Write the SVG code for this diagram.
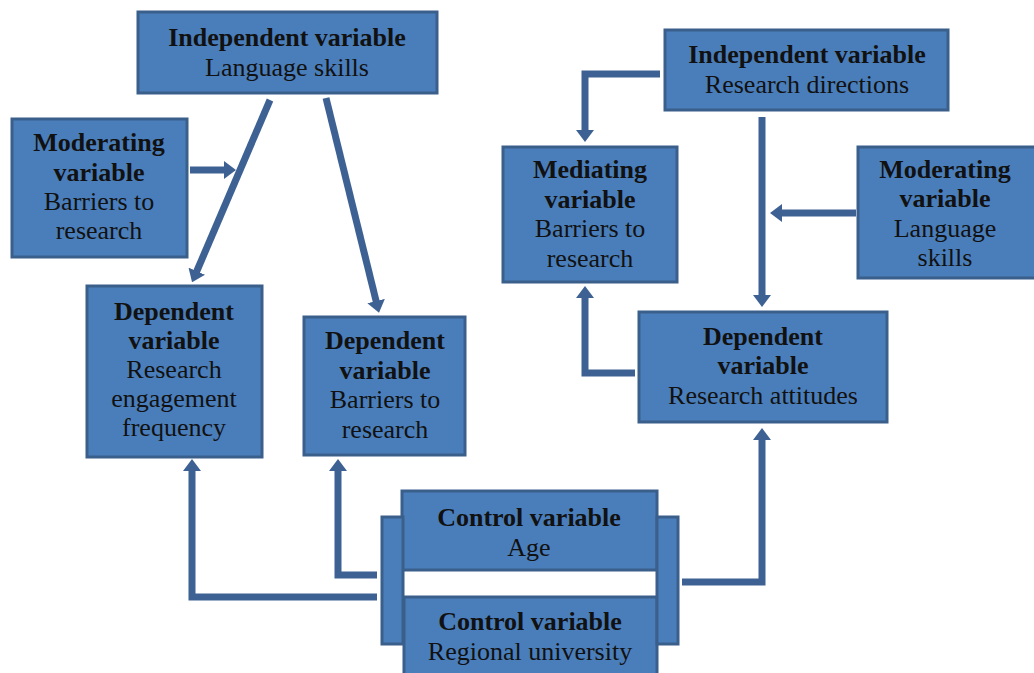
<svg xmlns="http://www.w3.org/2000/svg" width="1034" height="673" viewBox="0 0 1034 673">
<style>
.box{fill:#4A7EBB;stroke:#3A5F8B;stroke-width:3}
.t{font-family:"Liberation Serif","Times New Roman",serif;font-size:26px;fill:#111;text-anchor:middle}
.b{font-weight:bold}
.c{fill:none;stroke:#3D6193;stroke-width:7;stroke-linejoin:miter}
</style>
<defs>
<marker id="ah" markerUnits="userSpaceOnUse" markerWidth="12" markerHeight="18" viewBox="0 0 12 18" refX="2" refY="9" orient="auto">
<path d="M0,0 L12,9 L0,18 z" fill="#3D6193"/>
</marker>
</defs>
<rect width="1034" height="673" fill="#fff"/>
<g id="connectors">
<path class="c" d="M270,100 L196,273" marker-end="url(#ah)"/>
<path class="c" d="M326,98 L376.6,303" marker-end="url(#ah)"/>
<path class="c" d="M190,170 H226" marker-end="url(#ah)"/>
<path class="c" d="M377,597 H192 V469" marker-end="url(#ah)"/>
<path class="c" d="M377,575 H338 V469" marker-end="url(#ah)"/>
<path class="c" d="M682,582 H762 V438" marker-end="url(#ah)"/>
<path class="c" d="M635,373 H585 V296" marker-end="url(#ah)"/>
<path class="c" d="M660,74 H585 V132" marker-end="url(#ah)"/>
<path class="c" d="M762,117 V297" marker-end="url(#ah)"/>
<path class="c" d="M856,213 H780" marker-end="url(#ah)"/>
</g>
<g id="indep-language">
<rect class="box" x="138" y="12" width="299" height="81"/>
<text class="t b" x="287" y="46">Independent variable</text>
<text class="t" x="287" y="76">Language skills</text>
</g>
<g id="moderating-barriers">
<rect class="box" x="12" y="119" width="175" height="138"/>
<text class="t b" x="99" y="151">Moderating</text>
<text class="t b" x="99" y="181">variable</text>
<text class="t" x="99" y="210">Barriers to</text>
<text class="t" x="99" y="239">research</text>
</g>
<g id="dep-engagement">
<rect class="box" x="87" y="286" width="175" height="171"/>
<text class="t b" x="174" y="320">Dependent</text>
<text class="t b" x="174" y="349">variable</text>
<text class="t" x="174" y="378">Research</text>
<text class="t" x="174" y="407">engagement</text>
<text class="t" x="174" y="436">frequency</text>
</g>
<g id="dep-barriers">
<rect class="box" x="304" y="317" width="161" height="138"/>
<text class="t b" x="385" y="349">Dependent</text>
<text class="t b" x="385" y="379">variable</text>
<text class="t" x="385" y="408">Barriers to</text>
<text class="t" x="385" y="438">research</text>
</g>
<g id="indep-directions">
<rect class="box" x="665" y="30" width="283" height="80"/>
<text class="t b" x="807" y="63">Independent variable</text>
<text class="t" x="807" y="93">Research directions</text>
</g>
<g id="mediating">
<rect class="box" x="503" y="147" width="174" height="135"/>
<text class="t b" x="590" y="178">Mediating</text>
<text class="t b" x="590" y="208">variable</text>
<text class="t" x="590" y="237">Barriers to</text>
<text class="t" x="590" y="267">research</text>
</g>
<g id="moderating-language">
<rect class="box" x="858" y="147" width="178" height="131"/>
<text class="t b" x="945" y="178">Moderating</text>
<text class="t b" x="945" y="207">variable</text>
<text class="t" x="945" y="237">Language</text>
<text class="t" x="945" y="266">skills</text>
</g>
<g id="dep-attitudes">
<rect class="box" x="639" y="312" width="248" height="110"/>
<text class="t b" x="763" y="345">Dependent</text>
<text class="t b" x="763" y="374">variable</text>
<text class="t" x="763" y="404">Research attitudes</text>
</g>
<g id="control-group">
<rect class="box" x="402" y="491" width="255" height="79"/>
<rect class="box" x="404" y="597" width="253" height="80"/>
<rect class="box" x="382" y="517" width="21" height="127"/>
<rect class="box" x="657" y="517" width="21" height="127"/>
<text class="t b" x="529" y="526">Control variable</text>
<text class="t" x="529" y="556">Age</text>
<text class="t b" x="530" y="630">Control variable</text>
<text class="t" x="530" y="660">Regional university</text>
</g>
</svg>
